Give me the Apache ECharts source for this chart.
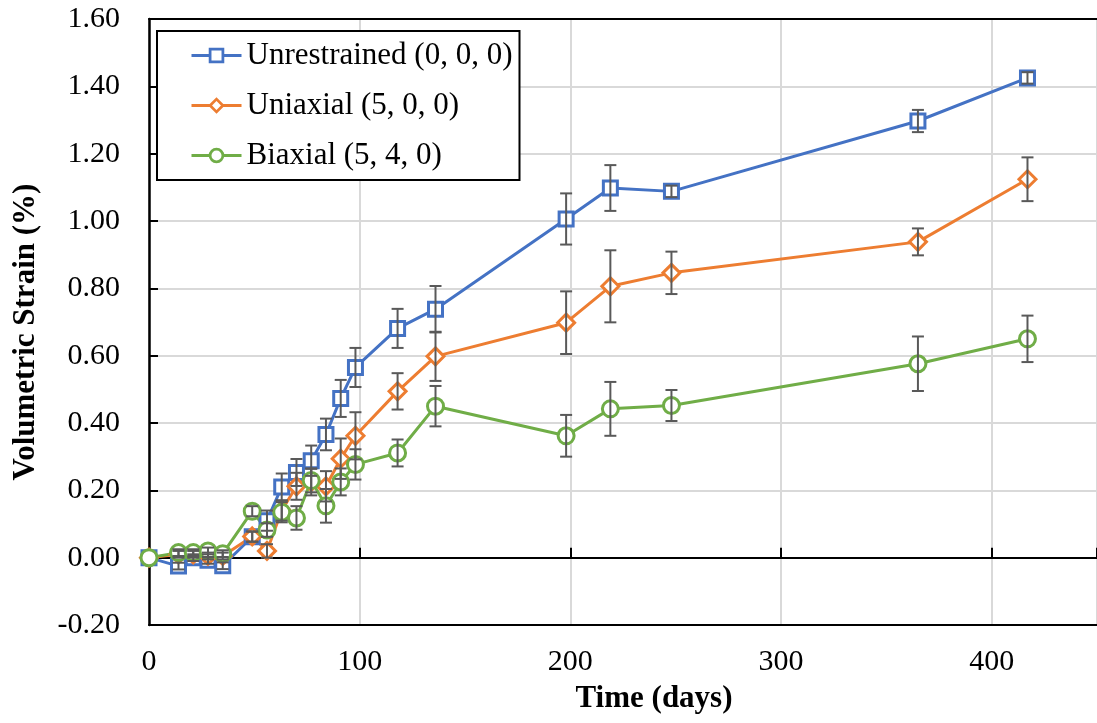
<!DOCTYPE html>
<html>
<head>
<meta charset="utf-8">
<script src="https://cdn.jsdelivr.net/npm/echarts@6/dist/echarts.min.js"></script>
<style>
  html, body { margin: 0; padding: 0; background: #fff; }
  #chart { width: 1097px; height: 723px; }
</style>
</head>
<body>
<div id="chart"></div>
<script>
// Test ages (days)
const days = [0, 14, 21, 28, 35, 49, 56, 63, 70, 77, 84, 91, 98, 118, 136, 198, 219, 248, 365, 417];

// Mean volumetric strain (%) for each confinement case
const unrestrained = [0, -0.025, 0.0, -0.008, -0.024, 0.062, 0.11, 0.21, 0.253, 0.288, 0.366, 0.473, 0.565, 0.681, 0.738, 1.006, 1.098, 1.088, 1.297, 1.425];
const uniaxial     = [0, 0.01, 0.01, 0.005, 0.005, 0.063, 0.02, 0.14, 0.212, 0.225, 0.212, 0.294, 0.362, 0.494, 0.598, 0.698, 0.806, 0.846, 0.938, 1.124];
const biaxial      = [0, 0.015, 0.015, 0.02, 0.012, 0.138, 0.082, 0.135, 0.118, 0.229, 0.154, 0.225, 0.277, 0.311, 0.45, 0.362, 0.442, 0.452, 0.576, 0.65];

// Error bar half-lengths (%)
const unrestrainedErr = [0, 0.01, 0.01, 0.01, 0.01, 0.015, 0.03, 0.04, 0.04, 0.045, 0.047, 0.055, 0.058, 0.058, 0.069, 0.076, 0.068, 0.017, 0.033, 0.017];
const uniaxialErr     = [0, 0.01, 0.01, 0.01, 0.01, 0.015, 0.02, 0.03, 0.04, 0.04, 0.045, 0.06, 0.07, 0.054, 0.073, 0.093, 0.107, 0.063, 0.04, 0.065];
const biaxialErr      = [0, 0.01, 0.01, 0.01, 0.01, 0.015, 0.02, 0.03, 0.035, 0.035, 0.05, 0.04, 0.045, 0.04, 0.06, 0.062, 0.08, 0.046, 0.081, 0.069];

const seriesNames = ['Unrestrained (0, 0, 0)', 'Uniaxial (5, 0, 0)', 'Biaxial (5, 4, 0)'];
const yTicks = { min: -0.2, max: 1.6, step: 0.2 };
const xTicks = { min: 0, max: 450, step: 100 };

const FONT = "'Liberation Serif', 'Times New Roman', serif";
const colors = ['#4472C4', '#ED7D31', '#70AD47'];
const symbols = ['rect', 'diamond', 'circle'];
const symbolSizes = [14, 17, 16];

const values = [unrestrained, uniaxial, biaxial];
const errors = [unrestrainedErr, uniaxialErr, biaxialErr];

function pairs(ys) { return days.map((d, i) => [d, ys[i]]); }
function triples(ys, es) { return days.map((d, i) => [d, ys[i], es[i]]); }

function renderErrorBar(params, api) {
  const x = api.value(0), y = api.value(1), e = api.value(2);
  if (!e) return null;
  const hi = api.coord([x, y + e]);
  const lo = api.coord([x, y - e]);
  const cap = 6;
  const style = { stroke: '#595959', lineWidth: 2, fill: null };
  return {
    type: 'group',
    children: [
      { type: 'line', shape: { x1: hi[0], y1: hi[1], x2: lo[0], y2: lo[1] }, style },
      { type: 'line', shape: { x1: hi[0] - cap, y1: hi[1], x2: hi[0] + cap, y2: hi[1] }, style },
      { type: 'line', shape: { x1: lo[0] - cap, y1: lo[1], x2: lo[0] + cap, y2: lo[1] }, style }
    ]
  };
}

const lineSeries = seriesNames.map((name, i) => ({
  name,
  type: 'line',
  xAxisIndex: 0,
  data: pairs(values[i]),
  symbol: symbols[i],
  symbolSize: symbolSizes[i],
  showSymbol: true,
  lineStyle: { color: colors[i], width: 3 },
  itemStyle: { color: '#fff', borderColor: colors[i], borderWidth: 3 },
  emphasis: { disabled: true },
  z: 2
}));

const errorSeries = seriesNames.map((name, i) => ({
  name: name + ' error',
  type: 'custom',
  xAxisIndex: 0,
  data: triples(values[i], errors[i]),
  renderItem: renderErrorBar,
  encode: { x: 0, y: [1] },
  silent: true,
  z: 3
}));

const chart = echarts.init(document.getElementById('chart'), null, { renderer: 'canvas' });
chart.setOption({
  animation: false,
  backgroundColor: '#fff',
  grid: { left: 149, right: 0, top: 19, bottom: 98 },
  legend: {
    data: seriesNames,
    orient: 'vertical',
    left: 157,
    top: 31,
    padding: [8, 7, 8, 33],
    itemWidth: 50,
    itemHeight: 16,
    itemGap: 17,
    backgroundColor: '#fff',
    borderColor: '#000',
    borderWidth: 2,
    borderRadius: 0,
    lineStyle: { width: 3 },
    itemStyle: { borderWidth: 2.75 },
    textStyle: { fontFamily: FONT, fontSize: 31, color: '#000', lineHeight: 33 }
  },
  xAxis: [
    {
      // bottom frame with tick labels and vertical gridlines
      type: 'value', position: 'bottom',
      min: xTicks.min, max: xTicks.max, interval: xTicks.step,
      name: 'Time (days)', nameLocation: 'middle', nameGap: 58,
      nameTextStyle: { fontFamily: FONT, fontSize: 31, fontWeight: 'bold', color: '#000', padding: [0, 0, 0, 62] },
      axisLine: { onZero: false, lineStyle: { color: '#000', width: 2 } },
      axisTick: { show: false },
      axisLabel: { fontFamily: FONT, fontSize: 30, color: '#000', margin: 22, showMaxLabel: false },
      splitLine: { show: true, lineStyle: { color: '#d9d9d9', width: 2 } }
    },
    {
      // horizontal axis line through zero strain
      type: 'value', position: 'bottom',
      min: xTicks.min, max: xTicks.max, interval: xTicks.step,
      axisLine: { onZero: true, onZeroAxisIndex: 0, lineStyle: { color: '#000', width: 2 } },
      axisTick: { show: true, inside: true, length: 10, lineStyle: { color: '#000', width: 2 } },
      axisLabel: { show: false },
      splitLine: { show: false }
    },
    {
      // top frame
      type: 'value', position: 'top',
      min: xTicks.min, max: xTicks.max, interval: xTicks.step,
      axisLine: { onZero: false, lineStyle: { color: '#000', width: 2 } },
      axisTick: { show: false },
      axisLabel: { show: false },
      splitLine: { show: false }
    }
  ],
  yAxis: {
    type: 'value',
    min: yTicks.min, max: yTicks.max, interval: yTicks.step,
    name: 'Volumetric Strain (%)', nameLocation: 'middle', nameGap: 108,
    nameTextStyle: { fontFamily: FONT, fontSize: 31, fontWeight: 'bold', color: '#000', padding: [0, 20, 0, 0] },
    axisLine: { show: true, lineStyle: { color: '#000', width: 2.5 } },
    axisTick: { show: true, inside: true, length: 9, lineStyle: { color: '#000', width: 2 } },
    axisLabel: {
      fontFamily: FONT, fontSize: 30, color: '#000', margin: 29,
      formatter: v => v.toFixed(2)
    },
    splitLine: { show: true, lineStyle: { color: '#d9d9d9', width: 2 } }
  },
  series: lineSeries.concat(errorSeries)
});
</script>
</body>
</html>
